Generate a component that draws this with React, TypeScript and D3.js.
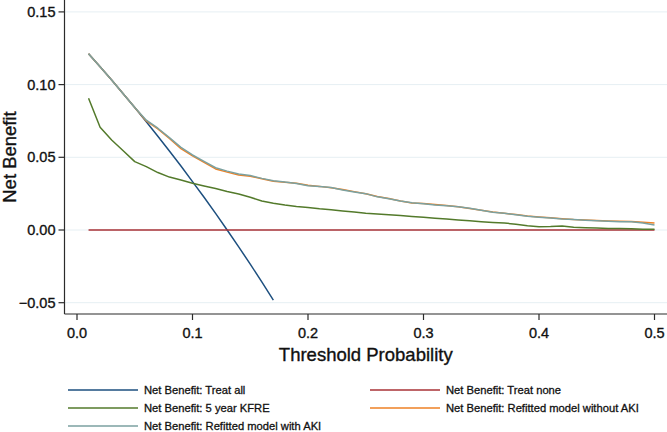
import React from "react";
import * as d3 from "d3";

const thresholds: number[] = [
  0.01, 0.02, 0.03, 0.04, 0.05, 0.06, 0.07, 0.08, 0.09, 0.1,
  0.11, 0.12, 0.13, 0.14, 0.15, 0.16, 0.17, 0.18, 0.19, 0.2,
  0.21, 0.22, 0.23, 0.24, 0.25, 0.26, 0.27, 0.28, 0.29, 0.3,
  0.31, 0.32, 0.33, 0.34, 0.35, 0.36, 0.37, 0.38, 0.39, 0.4,
  0.41, 0.42, 0.43, 0.44, 0.45, 0.46, 0.47, 0.48, 0.49, 0.5,
];

const treatAllThresholds: number[] = [
  0.01, 0.02, 0.03, 0.04, 0.05, 0.06, 0.07, 0.08, 0.09, 0.1,
  0.11, 0.12, 0.13, 0.14, 0.15, 0.16, 0.17,
];
const treatAll: number[] = [
  0.1212, 0.1122, 0.1031, 0.0937, 0.0842, 0.0745, 0.0645, 0.0543, 0.044, 0.0333,
  0.0225, 0.0114, 0.0, -0.0116, -0.0235, -0.0357, -0.0482,
];

const treatNone: number[] = thresholds.map(() => 0);

const kfre: number[] = [
  0.0906, 0.0707, 0.0619, 0.0545, 0.047, 0.0436, 0.0395, 0.0364, 0.0344, 0.0321,
  0.0303, 0.0285, 0.0265, 0.0248, 0.0225, 0.02, 0.0184, 0.0172, 0.0162, 0.0155,
  0.0146, 0.0139, 0.0131, 0.0124, 0.0115, 0.011, 0.0105, 0.0099, 0.0093, 0.0087,
  0.0081, 0.0075, 0.0069, 0.0063, 0.0057, 0.0052, 0.0048, 0.004, 0.003, 0.0023,
  0.0024, 0.0028, 0.0019, 0.0016, 0.0013, 0.0011, 0.001, 0.0008, 0.0006, 0.0005,
];

const withoutAki: number[] = [
  0.1212, 0.1122, 0.1031, 0.0937, 0.0842, 0.075, 0.0695, 0.063, 0.056, 0.051,
  0.0465, 0.042, 0.0398, 0.0378, 0.037, 0.0352, 0.0336, 0.0328, 0.0322, 0.0308,
  0.03, 0.029, 0.0278, 0.0264, 0.025, 0.023, 0.0217, 0.02, 0.0185, 0.0182,
  0.0176, 0.0168, 0.016, 0.0148, 0.0136, 0.0124, 0.0115, 0.0106, 0.0097, 0.009,
  0.0084, 0.0078, 0.0072, 0.0068, 0.0065, 0.0062, 0.006, 0.0058, 0.0053, 0.0048,
];

const withAki: number[] = [
  0.1212, 0.1122, 0.1031, 0.0937, 0.0842, 0.0755, 0.07, 0.0635, 0.0568, 0.0516,
  0.0472, 0.0428, 0.0405, 0.0385, 0.0375, 0.0355, 0.0338, 0.033, 0.032, 0.0305,
  0.03, 0.0293, 0.0275, 0.0262, 0.025, 0.0228, 0.0215, 0.02, 0.0188, 0.018,
  0.0172, 0.0166, 0.016, 0.015, 0.0136, 0.0122, 0.0115, 0.0105, 0.0095, 0.0088,
  0.0082, 0.0076, 0.0072, 0.0067, 0.0063, 0.006, 0.0057, 0.0057, 0.0048, 0.0034,
];

const xTicks: number[] = [0, 0.1, 0.2, 0.3, 0.4, 0.5];
const yTicks: number[] = [-0.05, 0, 0.05, 0.1, 0.15];

const seriesNames: string[] = [
  "Net Benefit: Treat all",
  "Net Benefit: Treat none",
  "Net Benefit: 5 year KFRE",
  "Net Benefit: Refitted model without AKI",
  "Net Benefit: Refitted model with AKI",
];
const seriesColors: string[] = ["#1d4f7f", "#a93236", "#537a2b", "#ee8125", "#7ba1a0"];

export default function App() {
  const W = 667;
  const H = 432;
  const left = 64.5;
  const right = 667;
  const top = 0;
  const bottom = 314;

  const x = d3.scaleLinear().domain([0, 0.5]).range([77, 654.5]);
  const y = d3.scaleLinear().domain([0, 0.15]).range([230, 11.9]);

  const line = d3
    .line<[number, number]>()
    .x((d) => x(d[0]))
    .y((d) => y(d[1]));

  const zip = (xs: number[], ys: number[]) =>
    xs.map((t, i) => [t, ys[i]] as [number, number]);

  const series = [
    { data: zip(treatAllThresholds, treatAll), color: seriesColors[0] },
    { data: zip(thresholds, treatNone), color: seriesColors[1] },
    { data: zip(thresholds, kfre), color: seriesColors[2] },
    { data: zip(thresholds, withoutAki), color: seriesColors[3] },
    { data: zip(thresholds, withAki), color: seriesColors[4] },
  ];

  const font = "'Liberation Sans', Arial, Helvetica, sans-serif";
  const axisColor = "#2b2b2b";
  const textColor = "#111";

  const legendPos = [
    { lx: 68, ly: 390 },
    { lx: 370, ly: 390 },
    { lx: 68, ly: 408 },
    { lx: 370, ly: 408 },
    { lx: 68, ly: 426 },
  ];

  return (
    <svg
      width={W}
      height={H}
      style={{ position: "absolute", left: 0, top: 0, background: "#fff" }}
      fontFamily={font}
    >
      <rect x={0} y={0} width={W} height={H} fill="#fff" />
      {yTicks.map((t) => (
        <line
          key={"g" + t}
          x1={left}
          x2={right}
          y1={y(t)}
          y2={y(t)}
          stroke="#e6eff3"
          strokeWidth={1}
        />
      ))}
      {series.map((s, i) => (
        <path
          key={"s" + i}
          d={line(s.data) || ""}
          fill="none"
          stroke={s.color}
          strokeWidth={1.5}
          strokeLinejoin="round"
        />
      ))}
      <line x1={left} x2={left} y1={top} y2={bottom} stroke={axisColor} strokeWidth={1.2} />
      {yTicks.map((t) => (
        <g key={"yt" + t}>
          <line x1={left - 6} x2={left} y1={y(t)} y2={y(t)} stroke={axisColor} strokeWidth={1.2} />
          <text
            x={left - 9}
            y={y(t)}
            dy="0.35em"
            textAnchor="end"
            fontSize={14.5}
            fill={textColor}
            stroke={textColor}
            strokeWidth={0.35}
          >
            {d3.format(".2f")(t)}
          </text>
        </g>
      ))}
      <line x1={left} x2={right} y1={bottom} y2={bottom} stroke={axisColor} strokeWidth={1.2} />
      {xTicks.map((t) => (
        <g key={"xt" + t}>
          <line x1={x(t)} x2={x(t)} y1={bottom} y2={bottom + 6} stroke={axisColor} strokeWidth={1.2} />
          <text
            x={x(t)}
            y={338}
            textAnchor="middle"
            fontSize={14.5}
            fill={textColor}
            stroke={textColor}
            strokeWidth={0.35}
          >
            {d3.format(".1f")(t)}
          </text>
        </g>
      ))}
      <text
        x={(left + right) / 2}
        y={361}
        textAnchor="middle"
        fontSize={18.5}
        fill={textColor}
        stroke={textColor}
        strokeWidth={0.35}
      >
        Threshold Probability
      </text>
      <text
        transform={`translate(15.5, ${(top + bottom) / 2}) rotate(-90)`}
        textAnchor="middle"
        fontSize={18.5}
        fill={textColor}
        stroke={textColor}
        strokeWidth={0.35}
      >
        Net Benefit
      </text>
      {seriesNames.map((name, i) => (
        <g key={"l" + i}>
          <line
            x1={legendPos[i].lx}
            x2={legendPos[i].lx + 70}
            y1={legendPos[i].ly}
            y2={legendPos[i].ly}
            stroke={seriesColors[i]}
            strokeWidth={1.5}
          />
          <text
            x={legendPos[i].lx + 76}
            y={legendPos[i].ly}
            dy="0.35em"
            fontSize={11.2}
            fill={textColor}
            stroke={textColor}
            strokeWidth={0.3}
          >
            {name}
          </text>
        </g>
      ))}
    </svg>
  );
}
